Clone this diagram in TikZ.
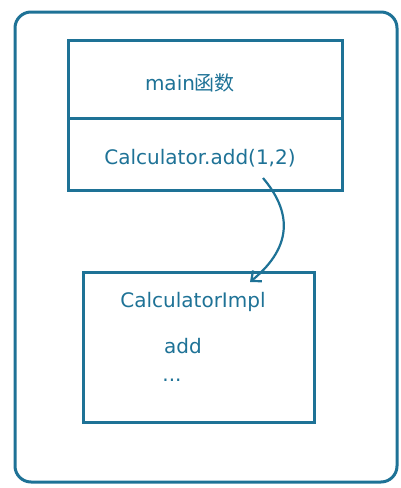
\documentclass[tikz,border=0pt]{standalone}
\usepackage{fontspec}
\setmainfont{DejaVu Sans}
\newfontfamily\cjk{Noto Sans CJK SC}
\usetikzlibrary{arrows.meta}
\definecolor{penblue}{RGB}{30,114,150}

\begin{document}
\begin{tikzpicture}[x=1pt, y=-1pt,
    line width=3pt, draw=penblue,
    Box/.style = {rectangle, draw=penblue, line width=3pt,
                  outer sep=0pt, inner sep=0pt},% boxes of the sketch
    T/.style = {text=penblue, font=\fontsize{20}{24}\selectfont},
                        ]
\useasboundingbox (0,0) rectangle (401,488);
\draw[penblue, rounded corners=16pt] (15,12) rectangle (397,482);
% main box with its two rows
\node[Box, minimum width=274pt, minimum height=150pt] (main) at (205,115) {};
\draw[penblue] (main.west |- 0,118) coordinate (cut) -- (main.east |- 0,118);
\node[T] (title) at (190,83) {main\cjk 函数};
\node[T] (call) at (200,158) {Calculator.add(1,2)};
% impl box
\node[Box, minimum width=231pt, minimum height=150pt] (impl) at (199,347) {};
\node[T] (cls) at (193,302) {CalculatorImpl};
\node[T] (meth) at (183,346) {add};
\node[T] (more) at (172,380) {...};
\coordinate (from) at (263,178);
\coordinate (to) at (250,282);
\draw[penblue, line width=2.2pt, -{Straight Barb[length=8pt,width=14pt]}]
    (from) .. controls (290,210) and (295,245) .. (to);
\end{tikzpicture}
\end{document}
